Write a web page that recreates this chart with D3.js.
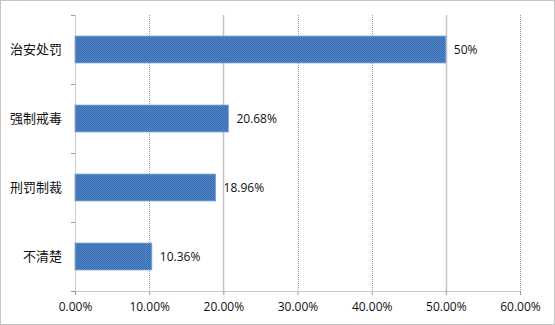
<!DOCTYPE html>
<html><head><meta charset="utf-8">
<script src="https://cdn.jsdelivr.net/npm/d3@7"></script>
<style>body{margin:0;background:#fff}svg{display:block}</style>
</head><body>
<script>
const categories = ["治安处罚","强制戒毒","刑罚制裁","不清楚"];
const values = [50, 20.68, 18.96, 10.36];
const valueLabels = ["50%","20.68%","18.96%","10.36%"];
const xTicks = [0,10,20,30,40,50,60];

const W=555,H=325;
const svg=d3.select("body").append("svg").attr("width",W).attr("height",H);
const defs=svg.append("defs");
const pat=defs.append("pattern").attr("id","dots").attr("patternUnits","userSpaceOnUse").attr("width",2).attr("height",2);
pat.append("rect").attr("width",2).attr("height",2).attr("fill","#4f84c6");
pat.append("rect").attr("width",1).attr("height",1).attr("fill","#3a6eb2");
pat.append("rect").attr("x",1).attr("y",1).attr("width",1).attr("height",1).attr("fill","#3a6eb2");

svg.append("rect").attr("x",0.5).attr("y",0.5).attr("width",W-1).attr("height",H-1)
  .attr("fill","#fff").attr("stroke","#888").attr("stroke-dasharray","1,1");

const L=75,R=520,T=15,B=291;
const x=d3.scaleLinear().domain([0,60]).range([L,R]);
const y=d3.scaleBand().domain(categories).range([T,B]).paddingInner(0.61).paddingOuter(0.305);

// gridlines
svg.append("g").selectAll("line").data(xTicks.filter(d=>d>0)).join("line")
  .attr("x1",d=>Math.round(x(d))+0.5).attr("x2",d=>Math.round(x(d))+0.5)
  .attr("y1",T).attr("y2",B)
  .attr("stroke",d=>(d===20||d===50)?"#c4c4c4":"#999")
  .attr("stroke-width",d=>(d===20||d===50)?1.5:1)
  .attr("stroke-dasharray",d=>(d===20||d===50)?null:"1,1");

// bars
svg.append("g").selectAll("rect").data(values).join("rect")
  .attr("x",x(0)).attr("y",(d,i)=>y(categories[i]))
  .attr("width",d=>x(d)-x(0)).attr("height",y.bandwidth())
  .attr("fill","url(#dots)").attr("stroke","#7aa3d8").attr("stroke-width",0.8);

// value labels
svg.append("g").selectAll("text").data(values).join("text")
  .attr("x",d=>x(d)+8).attr("y",(d,i)=>y(categories[i])+y.bandwidth()/2)
  .attr("dy","0.35em").attr("font-family","Open Sans, Noto Sans, sans-serif").attr("font-size",12)
  .attr("fill","#111").text((d,i)=>valueLabels[i]);

// x axis
const xa=svg.append("g").attr("transform",`translate(0,${B})`)
  .call(d3.axisBottom(x).tickValues(xTicks).tickFormat(d=>d.toFixed(2)+"%").tickSize(4).tickSizeOuter(0));
xa.select(".domain").attr("stroke","#999").attr("stroke-dasharray","1,1");
xa.selectAll(".tick line").attr("stroke","#999");
xa.selectAll("text").attr("font-family","Open Sans, Noto Sans, sans-serif").attr("font-size",12).attr("fill","#111").attr("dy","1.1em");

// y axis
const ya=svg.append("g").attr("transform",`translate(${L},0)`)
  .call(d3.axisLeft(y).tickSize(0).tickPadding(13));
ya.select(".domain").attr("stroke","#999").attr("stroke-dasharray","1,1");
ya.selectAll("text").attr("font-family","Noto Sans CJK SC, sans-serif").attr("font-size",13).attr("fill","#111");
// category boundary ticks
const bounds=[T].concat(categories.map(c=>y(c)+y.bandwidth()+y.step()*y.paddingInner()/2));
svg.append("g").selectAll("line").data(bounds).join("line")
  .attr("x1",L-4).attr("x2",L).attr("y1",d=>Math.round(d)+0.5).attr("y2",d=>Math.round(d)+0.5)
  .attr("stroke","#999");
</script>
</body></html>
